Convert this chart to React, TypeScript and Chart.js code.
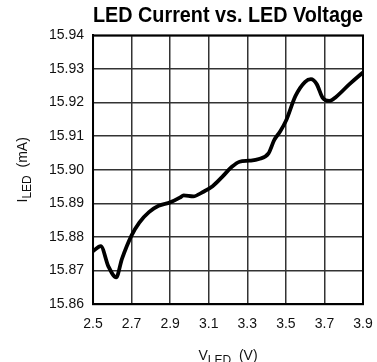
import React, { useEffect, useRef } from "react";
import { Chart, registerables } from "chart.js";

Chart.register(...registerables);

const titleText = "LED Current vs. LED Voltage";
const vLed = [2.50, 2.54, 2.58, 2.62, 2.65, 2.70, 2.74, 2.79, 2.84, 2.90, 2.95, 2.97, 3.02, 3.07, 3.12, 3.17, 3.22, 3.26, 3.31, 3.36, 3.41, 3.44, 3.47, 3.50, 3.55, 3.60, 3.63, 3.66, 3.69, 3.725, 3.76, 3.83, 3.90];
const iLed = [15.8758, 15.8773, 15.8712, 15.868, 15.8735, 15.8805, 15.8843, 15.8874, 15.8893, 15.8903, 15.8917, 15.8924, 15.8921, 15.8934, 15.8951, 15.8979, 15.9009, 15.9024, 15.9027, 15.9032, 15.9049, 15.9089, 15.9114, 15.9145, 15.922, 15.9262, 15.927, 15.9255, 15.9215, 15.9205, 15.9217, 15.9255, 15.929];
const xTicks = [2.5, 2.7, 2.9, 3.1, 3.3, 3.5, 3.7, 3.9];
const yTicks = [15.86, 15.87, 15.88, 15.89, 15.90, 15.91, 15.92, 15.93, 15.94];
const xTitle = { main: "V", sub: "LED", rest: "  (V)" };
const yTitle = { main: "I", sub: "LED", rest: "  (mA)" };

const FONT = "'Liberation Sans', Arial, sans-serif";

const framePlugin = {
  id: "frameAndTitles",
  afterDraw(chart: any) {
    const { ctx, chartArea } = chart;
    ctx.save();
    ctx.strokeStyle = "#000";
    ctx.lineWidth = 2;
    ctx.strokeRect(chartArea.left, chartArea.top, chartArea.right - chartArea.left, chartArea.bottom - chartArea.top);

    const drawSub = (t: { main: string; sub: string; rest: string }) => {
      ctx.font = `14px ${FONT}`;
      const w1 = ctx.measureText(t.main).width;
      const w3 = ctx.measureText(t.rest).width;
      ctx.font = `12px ${FONT}`;
      const w2 = ctx.measureText(t.sub).width;
      const total = w1 + w2 + w3;
      let x = -total / 2;
      ctx.textBaseline = "alphabetic";
      ctx.textAlign = "left";
      ctx.font = `14px ${FONT}`;
      ctx.fillText(t.main, x, 0);
      x += w1;
      ctx.font = `12px ${FONT}`;
      ctx.fillText(t.sub, x, 4);
      x += w2;
      ctx.font = `14px ${FONT}`;
      ctx.fillText(t.rest, x, 0);
    };
    ctx.fillStyle = "#111";
    const cx = (chartArea.left + chartArea.right) / 2;
    const cy = (chartArea.top + chartArea.bottom) / 2;
    ctx.save();
    ctx.translate(cx, chartArea.bottom + 56);
    drawSub(xTitle);
    ctx.restore();
    ctx.save();
    ctx.translate(chartArea.left - 66, cy);
    ctx.rotate(-Math.PI / 2);
    drawSub(yTitle);
    ctx.restore();
    ctx.restore();
  },
};

export default function App() {
  const ref = useRef<HTMLCanvasElement | null>(null);
  useEffect(() => {
    if (!ref.current) return;
    const chart = new Chart(ref.current, {
      type: "line",
      data: {
        datasets: [
          {
            data: vLed.map((v, i) => ({ x: v, y: iLed[i] })),
            borderColor: "#000",
            borderWidth: 3.8,
            pointRadius: 0,
            cubicInterpolationMode: "monotone",
            fill: false,
          },
        ],
      },
      options: {
        animation: false,
        responsive: false,
        maintainAspectRatio: false,
        layout: { padding: { left: 40, right: 14, top: 0, bottom: 29 } },
        plugins: {
          legend: { display: false },
          tooltip: { enabled: false },
          title: {
            display: true,
            text: titleText,
            fullSize: false,
            align: "end",
            color: "#000",
            font: { family: FONT, size: 22, weight: "bold" },
            padding: { top: 3, bottom: 6 },
          },
        },
        scales: {
          x: {
            type: "linear",
            min: 2.5,
            max: 3.9,
            afterBuildTicks: (s: any) => {
              s.ticks = xTicks.map((v) => ({ value: v }));
            },
            ticks: {
              color: "#111",
              font: { family: FONT, size: 14 },
              padding: 0,
              maxRotation: 0,
              callback: (v: any) => Number(v).toFixed(1),
            },
            grid: { color: "#333", lineWidth: 1.5, drawTicks: true, tickLength: 12, tickColor: "rgba(0,0,0,0)" },
            border: { color: "#000", width: 2 },
          },
          y: {
            type: "linear",
            min: 15.86,
            max: 15.94,
            afterBuildTicks: (s: any) => {
              s.ticks = yTicks.map((v) => ({ value: v }));
            },
            ticks: {
              color: "#111",
              font: { family: FONT, size: 14 },
              padding: 9,
              callback: (v: any) => Number(v).toFixed(2),
            },
            grid: { color: "#333", lineWidth: 1.5, drawTicks: false },
            border: { color: "#000", width: 2 },
          },
        },
      },
      plugins: [framePlugin],
    });
    return () => chart.destroy();
  }, []);
  return (
    <div style={{ position: "absolute", left: 0, top: 0, width: 377, height: 362, background: "#fff" }}>
      <canvas ref={ref} width={377} height={362} style={{ display: "block" }} />
    </div>
  );
}
